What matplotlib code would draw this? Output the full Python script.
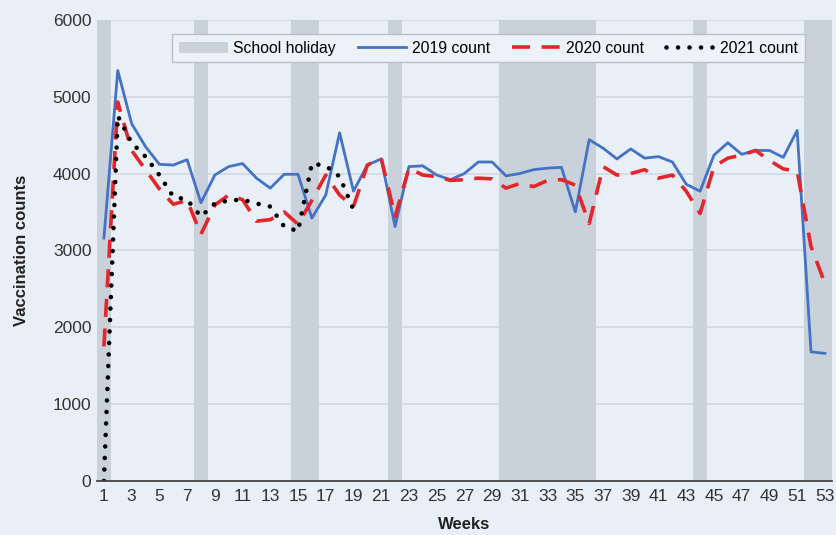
import matplotlib
matplotlib.use("Agg")
import matplotlib.pyplot as plt
import numpy as np

plt.rcParams['font.family'] = ['Liberation Sans', 'DejaVu Sans']

weeks = list(range(1, 54))

count_2019 = [3160, 5340, 4650, 4350, 4120, 4110, 4180, 3620, 3980, 4090,
              4130, 3940, 3810, 3990, 3990, 3420, 3720, 4530, 3770, 4110,
              4190, 3310, 4090, 4100, 3980, 3920, 4000, 4150, 4150, 3970,
              4000, 4050, 4070, 4080, 3500, 4440, 4330, 4190, 4320, 4200,
              4220, 4150, 3860, 3770, 4240, 4400, 4250, 4300, 4300, 4210,
              4560, 1680, 1660]

count_2020 = [1750, 4930, 4300, 4050, 3800, 3600, 3650, 3210, 3590, 3720,
              3660, 3380, 3400, 3500, 3340, 3650, 3980, 3720, 3570, 4110,
              4200, 3440, 4070, 3980, 3960, 3910, 3920, 3940, 3930, 3810,
              3870, 3830, 3910, 3920, 3850, 3350, 4090, 3980, 4000, 4050,
              3940, 3980, 3770, 3480, 4090, 4200, 4240, 4300, 4170, 4060,
              4030, 3050, 2570]

weeks_2021 = list(range(1, 20))
count_2021 = [0, 4750, 4400, 4220, 3980, 3700, 3660, 3440, 3610, 3650,
              3660, 3610, 3570, 3310, 3250, 4130, 4100, 3960, 3530]

holiday_weeks = [1, 8, 15, 16, 22, 30, 31, 32, 33, 34, 35, 36, 44, 52, 53]

bg = '#e9eff6'
fig = plt.figure(figsize=(8.36, 5.35), dpi=100, facecolor=bg)
ax = fig.add_axes([0.116, 0.101, 0.879, 0.862])
ax.set_facecolor(bg)

# school holiday bands
for i, w in enumerate(holiday_weeks):
    ax.axvspan(w - 0.5, w + 0.5, color='#c9d1db', lw=0, zorder=1,
               label='School holiday' if i == 0 else None)

ax.plot(weeks, count_2019, color='#4472c4', lw=2.0, zorder=3, label='2019 count')
ax.plot(weeks, count_2020, color='#e3262b', lw=2.6, dashes=(5, 3.2), zorder=4,
        label='2020 count')
ax.plot(weeks_2021, count_2021, color='black', lw=3.3, linestyle=(0, (0.01, 2.5)),
        dash_capstyle='round', zorder=5, label='2021 count')

ax.set_xlim(0.5, 53.5)
ax.set_ylim(0, 6000)
ax.set_xticks(weeks[::2])
ax.set_yticks(np.arange(0, 6001, 1000))
ax.grid(axis='y', color='#d3d9e0', lw=1.2, zorder=0)
ax.set_axisbelow(True)

for s in ['top', 'right', 'left']:
    ax.spines[s].set_visible(False)
ax.spines['bottom'].set_color('#444444')
ax.spines['bottom'].set_linewidth(1.3)
ax.spines['bottom'].set_zorder(6)
ax.tick_params(length=0, labelsize=12.5, colors='#333333', pad=4)
ax.tick_params(axis='x', pad=6)

ax.set_xlabel('Weeks', fontsize=12, fontweight='bold', color='#222222', labelpad=9)
ax.set_ylabel('Vaccination counts', fontsize=12, fontweight='bold', color='#222222',
              labelpad=17)

leg = ax.legend(ncol=4, loc='upper center', bbox_to_anchor=(0.533, 0.986),
                fontsize=11.3, frameon=True, fancybox=False, handlelength=3.1,
                columnspacing=1.4, handletextpad=0.35, borderpad=0.42)
leg.get_frame().set_facecolor('#edf2f8')
leg.get_frame().set_edgecolor('#b8bfc8')
leg.get_frame().set_alpha(1)
leg.set_zorder(7)

fig.savefig('out.png', dpi=100, facecolor=bg)
